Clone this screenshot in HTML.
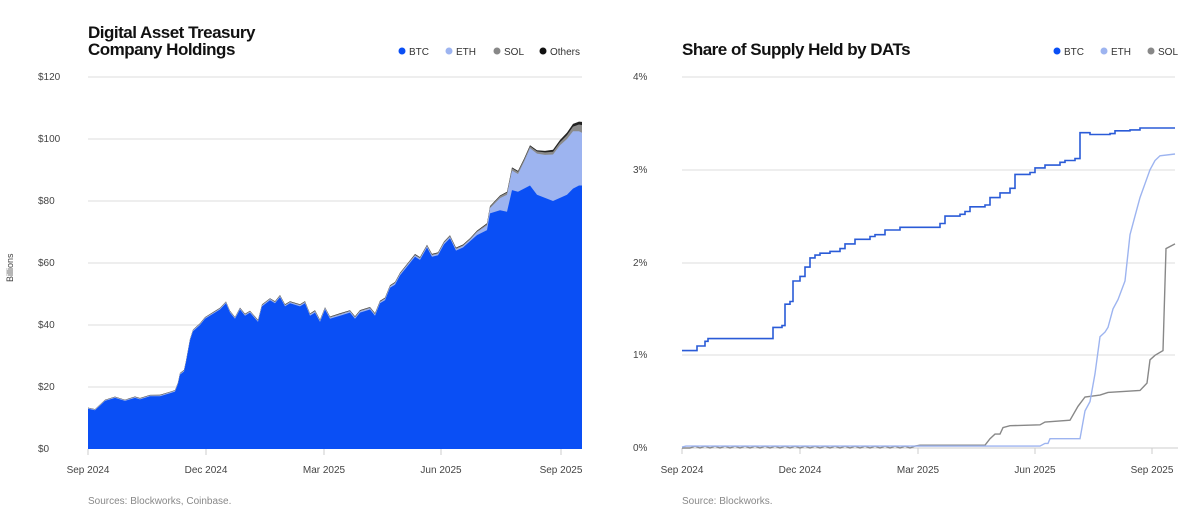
<!DOCTYPE html>
<html><head><meta charset="utf-8"><style>
html,body{margin:0;padding:0;background:#fff;width:1200px;height:526px;overflow:hidden;font-family:"Liberation Sans",sans-serif}
</style></head><body>
<svg id="s" width="1200" height="526" xmlns="http://www.w3.org/2000/svg" font-family="Liberation Sans, sans-serif">
<g font-size="17" font-weight="bold" fill="#111" letter-spacing="-0.5">
<text x="88" y="38">Digital Asset Treasury</text>
<text x="88" y="55">Company Holdings</text>
<text x="682" y="55">Share of Supply Held by DATs</text>
</g>
<g font-size="10" fill="#333">
<circle cx="402" cy="51" r="3.5" fill="#0a4ff5"/><text x="409" y="55">BTC</text>
<circle cx="449" cy="51" r="3.5" fill="#9db4f0"/><text x="456" y="55">ETH</text>
<circle cx="497" cy="51" r="3.5" fill="#888"/><text x="504" y="55">SOL</text>
<circle cx="543" cy="51" r="3.5" fill="#111"/><text x="550" y="55">Others</text>
<circle cx="1057" cy="51" r="3.5" fill="#0a4ff5"/><text x="1064" y="55">BTC</text>
<circle cx="1104" cy="51" r="3.5" fill="#9db4f0"/><text x="1111" y="55">ETH</text>
<circle cx="1151" cy="51" r="3.5" fill="#888"/><text x="1158" y="55">SOL</text>
</g>
<g stroke="#ddd" stroke-width="1">
<line x1="88" x2="582" y1="77" y2="77"/><line x1="88" x2="582" y1="139" y2="139"/><line x1="88" x2="582" y1="201" y2="201"/><line x1="88" x2="582" y1="263" y2="263"/><line x1="88" x2="582" y1="325" y2="325"/><line x1="88" x2="582" y1="387" y2="387"/>
<line x1="682" x2="1175" y1="77" y2="77"/><line x1="682" x2="1175" y1="170" y2="170"/><line x1="682" x2="1175" y1="263" y2="263"/><line x1="682" x2="1175" y1="355" y2="355"/><line x1="682" x2="1178" y1="448" y2="448" stroke="#ccc"/>
</g>
<g font-size="10" fill="#444">
<text x="38" y="80">$120</text><text x="38" y="142">$100</text><text x="38" y="204">$80</text><text x="38" y="266">$60</text><text x="38" y="328">$40</text><text x="38" y="390">$20</text><text x="38" y="452">$0</text>
<text x="633" y="80">4%</text><text x="633" y="173">3%</text><text x="633" y="266">2%</text><text x="633" y="358">1%</text><text x="633" y="451">0%</text>
<text transform="translate(13,282) rotate(-90)" font-size="9">Billions</text>
<g text-anchor="middle">
<text x="88" y="473">Sep 2024</text><text x="206" y="473">Dec 2024</text><text x="324" y="473">Mar 2025</text><text x="441" y="473">Jun 2025</text><text x="561" y="473">Sep 2025</text>
<text x="682" y="473">Sep 2024</text><text x="800" y="473">Dec 2024</text><text x="918" y="473">Mar 2025</text><text x="1035" y="473">Jun 2025</text><text x="1152" y="473">Sep 2025</text>
</g>
<text x="88" y="504" fill="#888">Sources: Blockworks, Coinbase.</text>
<text x="682" y="504" fill="#888">Source: Blockworks.</text>
</g>
<g stroke="#ccc"><line x1="88" x2="88" y1="449" y2="455"/><line x1="206" x2="206" y1="449" y2="455"/><line x1="324" x2="324" y1="449" y2="455"/><line x1="441" x2="441" y1="449" y2="455"/><line x1="561" x2="561" y1="449" y2="455"/>
<line x1="682" x2="682" y1="448" y2="454"/><line x1="800" x2="800" y1="448" y2="454"/><line x1="918" x2="918" y1="448" y2="454"/><line x1="1035" x2="1035" y1="448" y2="454"/><line x1="1152" x2="1152" y1="448" y2="454"/></g>
<g id="L"></g><g id="R"></g>
</svg>
<script>
var btc=[[88,13],[95,12.5],[100,14],[105,15.5],[115,16.5],[125,15.5],[135,16.5],[140,16],[150,17],[160,17],[170,18],[175,18.5],[178,21],[180,24],[184,25],[186,28],[190,35],[193,38],[200,40],[205,42],[215,44],[220,45],[226,47],[230,44],[235,42],[240,45],[245,43],[250,44],[258,41],[262,46],[270,48],[275,47],[280,49],[285,46],[290,47],[300,46],[305,47],[310,43],[315,44],[320,41],[325,45],[330,42],[340,43],[350,44],[355,42],[360,44],[370,45],[375,43],[380,47],[385,48],[390,52],[395,53],[400,56],[405,58],[410,60],[415,62],[420,61],[427,65],[432,62],[438,62.5],[444,66],[450,68],[456,64],[463,65],[470,67],[477,69],[487,70.6],[490,76],[500,77],[507,76.5],[512,83.5],[518,83],[524,84],[530,85],[537,82],[545,81],[553,80],[560,81],[567,82],[573,84],[579,85],[582,85]];
function interp(t,x){for(var i=1;i<t.length;i++){if(x<=t[i][0]){var a=t[i-1],b=t[i];return a[1]+(b[1]-a[1])*(x-a[0])/(b[0]-a[0]);}}return t[t.length-1][1]}
var dE=[[88,0.2],[470,0.5],[485,1.5],[490,1.7],[507,5.5],[510,6.5],[520,5.5],[527,11],[533,13],[547,14],[553,15],[560,17],[567,18],[573,18.5],[582,17]];
var dS=[[88,0.1],[480,0.3],[510,0.8],[527,0.6],[560,1],[573,1.5],[582,2.5]];
var dO=[[88,0.05],[500,0.2],[540,0.4],[582,1]];
var eth=[],sol=[],oth=[];
btc.forEach(function(p){var x=p[0];var e=p[1]+interp(dE,x),s=e+interp(dS,x),o=s+interp(dO,x);eth.push([x,e]);sol.push([x,s]);oth.push([x,o]);});
function yL(v){return 449-v*3.1}
function area(pts,c){var d='M88,449';pts.forEach(function(p){d+=' L'+p[0]+','+yL(p[1]).toFixed(1)});d+=' L582,449Z';return '<path d="'+d+'" fill="'+c+'"/>'}
function line(pts,c,fy,w){var d='';pts.forEach(function(p,i){d+=(i?' L':'M')+p[0]+','+fy(p[1]).toFixed(1)});return '<path d="'+d+'" fill="none" stroke="'+c+'" stroke-width="'+w+'"/>'}
document.getElementById('L').innerHTML=area(oth,'#222')+area(sol,'#8a8a8a')+area(eth,'#9db4f0')+area(btc,'#0a4ff5');
function yR(v){return 448-v*92.75}
function step(pts){var o=[];for(var i=0;i<pts.length;i++){if(i>0)o.push([pts[i][0],pts[i-1][1]]);o.push(pts[i]);}return o}
var rb=step([[682,1.05],[695,1.05],[697,1.1],[705,1.15],[708,1.18],[770,1.18],[773,1.3],[782,1.32],[785,1.55],[790,1.58],[793,1.8],[800,1.85],[805,1.95],[810,2.05],[815,2.08],[820,2.1],[830,2.12],[840,2.15],[845,2.2],[855,2.25],[870,2.28],[875,2.3],[885,2.35],[900,2.38],[935,2.38],[940,2.42],[945,2.5],[960,2.52],[965,2.55],[970,2.6],[985,2.62],[990,2.7],[1000,2.75],[1010,2.8],[1015,2.95],[1030,2.97],[1035,3.02],[1045,3.05],[1060,3.08],[1065,3.1],[1075,3.12],[1080,3.4],[1090,3.38],[1110,3.39],[1115,3.42],[1130,3.43],[1140,3.45],[1175,3.45]]);
var re=[[682,0.01]];for(var x=686;x<1045;x+=6)re.push([x,(x%12?0.02:0.005)]);re=re.concat([[1045,0.05],[1048,0.05],[1050,0.1],[1080,0.1],[1085,0.4],[1090,0.5],[1095,0.8],[1100,1.2],[1105,1.25],[1108,1.3],[1113,1.5],[1118,1.6],[1125,1.8],[1130,2.3],[1135,2.5],[1140,2.7],[1145,2.85],[1150,3.0],[1155,3.1],[1160,3.15],[1175,3.17]]);
var rs=[[682,0]];for(var x=690;x<918;x+=5)rs.push([x,(x%10?0.02:0)]);rs=rs.concat([[920,0.03],[985,0.03],[990,0.1],[995,0.15],[1000,0.15],[1003,0.22],[1010,0.24],[1040,0.25],[1045,0.28],[1070,0.3],[1078,0.45],[1085,0.55],[1100,0.57],[1108,0.6],[1140,0.62],[1147,0.7],[1150,0.95],[1155,1.0],[1163,1.05],[1166,2.15],[1175,2.2]]);
document.getElementById('R').innerHTML=line(rs,'#888',yR,1.4)+line(re,'#9db4f0',yR,1.4)+line(rb,'#2a5bd7',yR,1.6);
</script>
</body></html>
